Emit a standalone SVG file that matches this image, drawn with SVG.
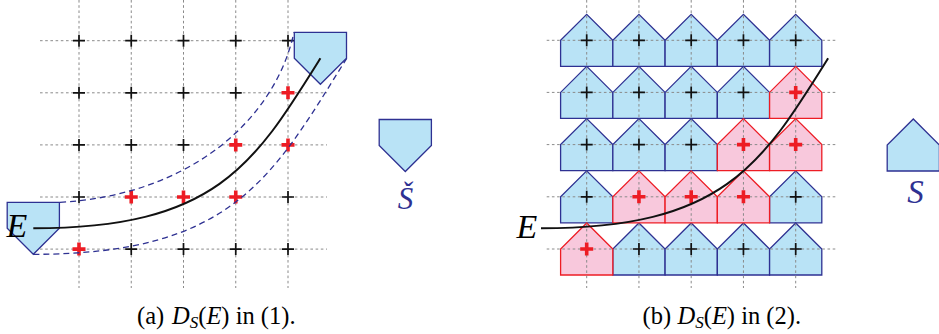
<svg xmlns="http://www.w3.org/2000/svg" width="939" height="334" viewBox="0 0 939 334">
<style>
.grid{stroke:#8a8a8a;stroke-width:1;stroke-dasharray:2.6 2.6;fill:none}
.bl{fill:#b9e3f6;stroke:#2e3192;stroke-width:1.3;stroke-linejoin:miter}
.pk{fill:#f8c8dc;stroke:#ed1c24;stroke-width:1.3;stroke-linejoin:miter}
.kx{stroke:#111;stroke-width:1.7;fill:none}
.rx{stroke:#ed1c24;stroke-width:3.6;fill:none}
.cur{stroke:#111;stroke-width:2;fill:none}
.env{stroke:#2e3192;stroke-width:1.3;fill:none;stroke-dasharray:6 4}
</style>
<defs>
<path id="house" d="M-26.1,26 V0 L0,-26 L26.1,0 V26 Z"/>
<path id="shouse" d="M-26.1,-26 H26.1 V0 L0,26 L-26.1,0 Z"/>
<path id="kc" d="M-6,0H6M0,-6V6"/>
<path id="rc" d="M-6.5,0H6.5M0,-6.5V6.5"/>
</defs>

<g id="panel-a">
<g id="grid-a" class="grid">
<path d="M40,40.7H327M40,92.8H327M40,144.9H327M40,197H327M40,249.1H327"/>
<path d="M79,0V288M131.25,0V288M183.5,0V288M235.75,0V288M288,0V288"/>
</g>
<g id="crosses-a">
<g class="kx">
<use href="#kc" x="79" y="40.7"/><use href="#kc" x="131.25" y="40.7"/><use href="#kc" x="183.5" y="40.7"/><use href="#kc" x="235.75" y="40.7"/><use href="#kc" x="288" y="40.7"/>
<use href="#kc" x="79" y="92.8"/><use href="#kc" x="131.25" y="92.8"/><use href="#kc" x="183.5" y="92.8"/><use href="#kc" x="235.75" y="92.8"/>
<use href="#kc" x="79" y="144.9"/><use href="#kc" x="131.25" y="144.9"/><use href="#kc" x="183.5" y="144.9"/>
<use href="#kc" x="79" y="197"/><use href="#kc" x="288" y="197"/>
<use href="#kc" x="131.25" y="249.1"/><use href="#kc" x="183.5" y="249.1"/><use href="#kc" x="235.75" y="249.1"/><use href="#kc" x="288" y="249.1"/>
</g>
<g class="rx">
<use href="#rc" x="288" y="92.8"/>
<use href="#rc" x="235.75" y="144.9"/><use href="#rc" x="288" y="144.9"/>
<use href="#rc" x="131.25" y="197"/><use href="#rc" x="183.5" y="197"/><use href="#rc" x="235.75" y="197"/>
<use href="#rc" x="79" y="249.1"/>
</g>
</g>
<g id="envelope-a">
<path class="env" d="M60,202.3 C190,195 275,120 294,32.3"/>
<path class="env" d="M33.3,254.3 C233.3,254.3 272.5,177.3 346.7,58.3"/>
</g>
<g id="shape-start"><use href="#shouse" class="bl" x="33.3" y="228.3"/></g>
<g id="shape-end"><use href="#shouse" class="bl" x="320.4" y="58.3"/></g>
<g id="curve-a"><path class="cur" d="M33.3,228.3 C216,228.3 254.2,164.5 320.4,58.3"/></g>
<g id="label-E-a"><text x="6.5" y="237" font-family="'Liberation Serif','DejaVu Serif',serif" font-style="italic" font-size="34">E</text></g>
</g>

<g id="shape-Scheck">
<use href="#shouse" class="bl" x="405.3" y="145.5"/>
<text x="405.5" y="208.5" font-family="'Liberation Serif','DejaVu Serif',serif" font-style="italic" font-size="31" fill="#2e3192" text-anchor="middle">Š</text>
</g>

<g id="panel-b">
<g id="houses-b">
<g class="bl">
<use href="#house" x="586.7" y="40.3"/><use href="#house" x="638.95" y="40.3"/><use href="#house" x="691.2" y="40.3"/><use href="#house" x="743.45" y="40.3"/><use href="#house" x="795.7" y="40.3"/>
<use href="#house" x="586.7" y="92.4"/><use href="#house" x="638.95" y="92.4"/><use href="#house" x="691.2" y="92.4"/><use href="#house" x="743.45" y="92.4"/>
<use href="#house" x="586.7" y="144.6"/><use href="#house" x="638.95" y="144.6"/><use href="#house" x="691.2" y="144.6"/>
<use href="#house" x="586.7" y="196.8"/><use href="#house" x="795.7" y="196.8"/>
<use href="#house" x="638.95" y="249"/><use href="#house" x="691.2" y="249"/><use href="#house" x="743.45" y="249"/><use href="#house" x="795.7" y="249"/>
</g>
<g class="pk">
<use href="#house" x="795.7" y="92.4"/>
<use href="#house" x="743.45" y="144.6"/><use href="#house" x="795.7" y="144.6"/>
<use href="#house" x="638.95" y="196.8"/><use href="#house" x="691.2" y="196.8"/><use href="#house" x="743.45" y="196.8"/>
<use href="#house" x="586.7" y="249"/>
</g>
</g>
<g id="grid-b" class="grid">
<path d="M546.7,40.3H836M546.7,92.4H836M546.7,144.6H836M546.7,196.8H836M546.7,249H836"/>
<path d="M586.7,0V288M638.95,0V288M691.2,0V288M743.45,0V288M795.7,0V288"/>
</g>
<g id="crosses-b">
<g class="kx">
<use href="#kc" x="586.7" y="40.3"/><use href="#kc" x="638.95" y="40.3"/><use href="#kc" x="691.2" y="40.3"/><use href="#kc" x="743.45" y="40.3"/><use href="#kc" x="795.7" y="40.3"/>
<use href="#kc" x="586.7" y="92.4"/><use href="#kc" x="638.95" y="92.4"/><use href="#kc" x="691.2" y="92.4"/><use href="#kc" x="743.45" y="92.4"/>
<use href="#kc" x="586.7" y="144.6"/><use href="#kc" x="638.95" y="144.6"/><use href="#kc" x="691.2" y="144.6"/>
<use href="#kc" x="586.7" y="196.8"/><use href="#kc" x="795.7" y="196.8"/>
<use href="#kc" x="638.95" y="249"/><use href="#kc" x="691.2" y="249"/><use href="#kc" x="743.45" y="249"/><use href="#kc" x="795.7" y="249"/>
</g>
<g class="rx">
<use href="#rc" x="795.7" y="92.4"/>
<use href="#rc" x="743.45" y="144.6"/><use href="#rc" x="795.7" y="144.6"/>
<use href="#rc" x="638.95" y="196.8"/><use href="#rc" x="691.2" y="196.8"/><use href="#rc" x="743.45" y="196.8"/>
<use href="#rc" x="586.7" y="249"/>
</g>
</g>
<g id="curve-b"><path class="cur" d="M541,228.3 C723.7,228.3 761.9,164.5 828.1,58.3"/></g>
<g id="label-E-b"><text x="516.5" y="237.5" font-family="'Liberation Serif','DejaVu Serif',serif" font-style="italic" font-size="34">E</text></g>
</g>

<g id="shape-S">
<use href="#house" class="bl" x="913.3" y="145"/>
<text x="915.5" y="202.5" font-family="'Liberation Serif','DejaVu Serif',serif" font-style="italic" font-size="33" fill="#2e3192" text-anchor="middle">S</text>
</g>

<g id="captions" font-family="'Liberation Serif','DejaVu Serif',serif" font-size="24.5" fill="#000">
<text x="137" y="324">(a)<tspan x="172" font-style="italic">D</tspan><tspan font-style="italic" font-size="17" dy="4">S</tspan><tspan dy="-4">(</tspan><tspan font-style="italic">E</tspan>) in (1).</text>
<text x="642.5" y="324">(b)<tspan x="677.5" font-style="italic">D</tspan><tspan font-style="italic" font-size="17" dy="4">S</tspan><tspan dy="-4">(</tspan><tspan font-style="italic">E</tspan>) in (2).</text>
</g>
</svg>
